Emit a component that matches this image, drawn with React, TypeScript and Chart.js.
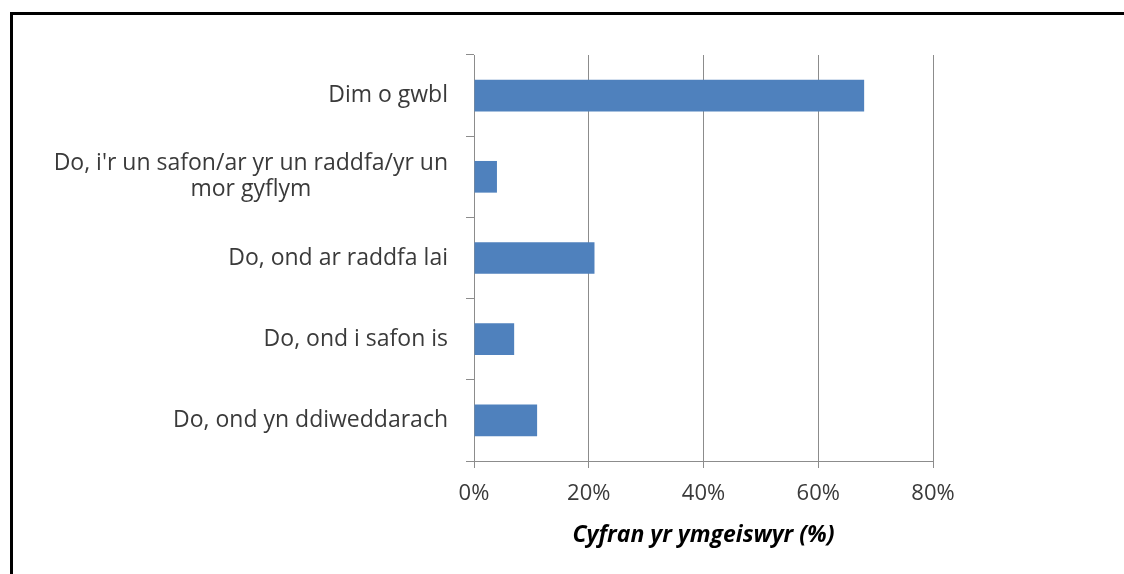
import React, { useEffect, useRef } from "react";
import { Chart, registerables } from "chart.js";

Chart.register(...registerables);

const categories: (string | string[])[] = [
  "Dim o gwbl",
  ["Do, i'r un safon/ar yr un raddfa/yr un", "mor gyflym"],
  "Do, ond ar raddfa lai",
  "Do, ond i safon is",
  "Do, ond yn ddiweddarach",
];
const values = [68, 4, 21, 7, 11];
const xTicks = [0, 20, 40, 60, 80];
const xTitle = "Cyfran yr ymgeiswyr (%)";

const FONT = "'Open Sans', sans-serif";
const TEXT = "#3a3a3a";
const GRID = "#8c8c8c";

const labelPlugin = {
  id: "catLabels",
  afterDraw(chart: any) {
    const ctx = chart.ctx;
    const y = chart.scales.y;
    const xR = 448;
    ctx.save();
    ctx.font = `23px ${FONT}`;
    ctx.fillStyle = TEXT;
    ctx.textBaseline = "middle";
    categories.forEach((lab, i) => {
      const cy = y.getPixelForValue(i);
      if (Array.isArray(lab)) {
        const W = Math.max(...lab.map((l) => ctx.measureText(l).width));
        const cx = xR - W / 2;
        const lh = 26;
        const startY = cy - ((lab.length - 1) * lh) / 2;
        ctx.textAlign = "center";
        lab.forEach((l, j) => ctx.fillText(l, cx, startY + j * lh));
      } else {
        ctx.textAlign = "right";
        ctx.fillText(lab, xR, cy);
      }
    });
    ctx.restore();
  },
};

export default function App() {
  const ref = useRef<HTMLCanvasElement>(null);
  useEffect(() => {
    if (!ref.current) return;
    const chart = new Chart(ref.current, {
      type: "bar",
      data: {
        labels: categories.map((c) => (Array.isArray(c) ? c.join(" ") : c)),
        datasets: [
          {
            data: values,
            backgroundColor: "#4F81BD",
            borderWidth: 0,
            barPercentage: 0.39,
            categoryPercentage: 1,
          },
        ],
      },
      options: {
        indexAxis: "y",
        animation: false,
        responsive: false,
        maintainAspectRatio: false,
        layout: { padding: { left: 0, top: 55, right: 191, bottom: 0 } },
        plugins: { legend: { display: false }, tooltip: { enabled: false }, title: { display: false } },
        scales: {
          y: {
            afterFit: (s: any) => {
              s.width = 474;
            },
            ticks: { display: false },
            grid: {
              display: true,
              offset: true,
              drawOnChartArea: false,
              drawTicks: true,
              tickLength: 8,
              color: GRID,
            },
            border: { display: true, color: GRID, width: 1 },
          },
          x: {
            min: 0,
            max: 80,
            afterFit: (s: any) => {
              s.height = 113;
            },
            afterBuildTicks: (s: any) => {
              s.ticks = xTicks.map((v) => ({ value: v }));
            },
            ticks: {
              callback: (v: any) => `${v}%`,
              font: { family: FONT, size: 22 },
              color: TEXT,
              padding: 13,
              maxRotation: 0,
            },
            grid: { color: GRID, tickLength: 7, drawTicks: true },
            border: { display: true, color: GRID, width: 1 },
            title: {
              display: true,
              text: xTitle,
              font: { family: FONT, size: 23, weight: "bold", style: "italic" },
              color: "#000000",
              padding: { top: 0, bottom: 25 },
            },
          },
        },
      },
      plugins: [labelPlugin],
    });
    return () => chart.destroy();
  }, []);
  return (
    <div style={{ position: "fixed", left: 0, top: 0, width: 1124, height: 574, overflow: "hidden", background: "#fff" }}>
      <div
        style={{
          position: "absolute",
          left: 10,
          top: 12,
          width: 1200,
          height: 700,
          border: "3px solid #000",
          boxSizing: "border-box",
        }}
      />
      <canvas ref={ref} width={1124} height={574} style={{ position: "absolute", left: 0, top: 0, display: "block" }} />
    </div>
  );
}
